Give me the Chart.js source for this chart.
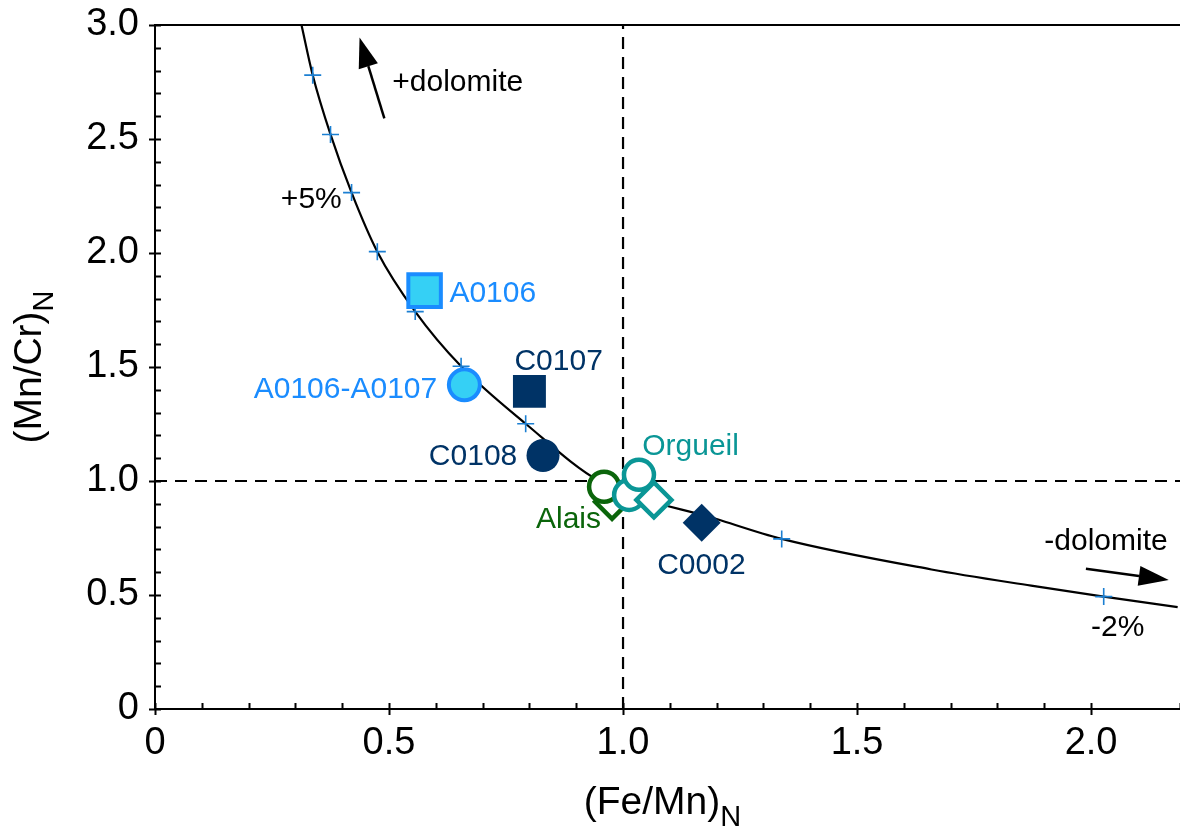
<!DOCTYPE html>
<html>
<head>
<meta charset="utf-8">
<script src="https://cdn.jsdelivr.net/npm/chart.js@4.4.1/dist/chart.umd.min.js"></script>
<style>
  html, body { margin: 0; padding: 0; background: #fff; }
  #wrap { width: 1180px; height: 832px; position: relative; }
</style>
</head>
<body>
<div id="wrap"><canvas id="chart"></canvas></div>
<script>
// mixing curve
const curveX = [0.313, 0.337, 0.375, 0.42, 0.475, 0.556, 0.654, 0.792, 0.949, 1.205, 1.339, 1.659, 1.872, 2.027, 2.185];
const curveY = [3.0, 2.78, 2.52, 2.265, 2.006, 1.743, 1.503, 1.251, 1.0, 0.83, 0.746, 0.612, 0.541, 0.493, 0.447];

// blue + marks along the curve
const stepX = [0.337, 0.375, 0.42, 0.475, 0.556, 0.654, 0.792, 1.339, 2.027];
const stepY = [2.78, 2.52, 2.265, 2.006, 1.743, 1.503, 1.251, 0.746, 0.493];

// samples (bottom to top in drawing order)
const sampleNames = ["A0106", "A0106-A0107", "C0107", "C0108", "Alais", "Alais", "Orgueil", "Orgueil", "Orgueil", "C0002"];
const sampleX = [0.576, 0.661, 0.80, 0.829, 0.9765, 0.9595, 1.013, 1.034, 1.066, 1.168];
const sampleY = [1.835, 1.422, 1.393, 1.112, 0.909, 0.9745, 0.939, 1.027, 0.917, 0.8165];

// reference lines
const refX = [1.0];
const refY = [1.0];

// axis ticks
const xTickValues = [0, 0.5, 1.0, 1.5, 2.0];
const xTickLabels = ["0", "0.5", "1.0", "1.5", "2.0"];
const yTickValues = [0, 0.5, 1.0, 1.5, 2.0, 2.5, 3.0];
const yTickLabels = ["0", "0.5", "1.0", "1.5", "2.0", "2.5", "3.0"];

const FONT = "'Liberation Sans', Arial, Helvetica, sans-serif";
const NAVY = "#003366";
const TEAL = "#0A9696";
const GREEN = "#0B650B";
const BLUE = "#1A8CFF";
const CYAN = "#35D0F5";

// marker look per sample
const sampleStyle = [
  { shape: "rect", r: 23, fill: CYAN, line: BLUE, w: 4 },
  { shape: "circle", r: 15.5, fill: CYAN, line: BLUE, w: 4 },
  { shape: "rect", r: 23.3, fill: NAVY, line: NAVY, w: 0 },
  { shape: "circle", r: 16.5, fill: NAVY, line: NAVY, w: 0 },
  { shape: "rectRot", r: 17, fill: "#fff", line: GREEN, w: 4.5 },
  { shape: "circle", r: 15, fill: "#fff", line: GREEN, w: 4.5 },
  { shape: "circle", r: 15, fill: "#fff", line: TEAL, w: 4.5 },
  { shape: "circle", r: 15, fill: "#fff", line: TEAL, w: 4.5 },
  { shape: "rectRot", r: 17.5, fill: "#fff", line: TEAL, w: 4.5 },
  { shape: "rectRot", r: 19, fill: NAVY, line: NAVY, w: 0 }
];

// text notes, in data units (centre of the text line)
const notes = [
  { text: "+dolomite", x: 0.507, y: 2.757, color: "#000", align: "left" },
  { text: "+5%", x: 0.399, y: 2.243, color: "#000", align: "right" },
  { text: "-dolomite", x: 1.900, y: 0.746, color: "#000", align: "left" },
  { text: "-2%", x: 2.0, y: 0.369, color: "#000", align: "left" },
  { text: "A0106", x: 0.629, y: 1.831, color: BLUE, align: "left" },
  { text: "A0106-A0107", x: 0.603, y: 1.409, color: BLUE, align: "right" },
  { text: "C0107", x: 0.768, y: 1.534, color: NAVY, align: "left" },
  { text: "C0108", x: 0.774, y: 1.119, color: NAVY, align: "right" },
  { text: "Orgueil", x: 1.041, y: 1.159, color: TEAL, align: "left" },
  { text: "Alais", x: 0.953, y: 0.843, color: GREEN, align: "right" },
  { text: "C0002", x: 1.073, y: 0.639, color: NAVY, align: "left" }
];

// dolomite arrows: tail -> tip
const arrows = [
  { x0: 0.490, y0: 2.59, x1: 0.437, y1: 2.945 },
  { x0: 1.989, y0: 0.615, x1: 2.166, y1: 0.566 }
];

function pick(values, labels) {
  return v => {
    const i = values.findIndex(t => Math.abs(t - v) < 1e-6);
    return i >= 0 ? labels[i] : "";
  };
}
function isMajor(v) {
  return Math.abs(v * 2 - Math.round(v * 2)) < 1e-6;
}
function noPad(s) {
  s.paddingLeft = 0; s.paddingRight = 0; s.paddingTop = 0; s.paddingBottom = 0;
}

const datasets = [];
datasets.push({
  data: [{ x: refX[0], y: 0 }, { x: refX[0], y: 3 }],
  borderColor: "#000", borderWidth: 2.2, borderDash: [12, 8],
  showLine: true, pointRadius: 0
});
datasets.push({
  data: [{ x: 0, y: refY[0] }, { x: 2.2, y: refY[0] }],
  borderColor: "#000", borderWidth: 2.2, borderDash: [12, 8],
  showLine: true, pointRadius: 0
});
datasets.push({
  data: curveX.map((x, i) => ({ x, y: curveY[i] })),
  borderColor: "#000", borderWidth: 2.2,
  showLine: true, pointRadius: 0, cubicInterpolationMode: "monotone"
});
datasets.push({
  data: stepX.map((x, i) => ({ x, y: stepY[i] })),
  pointStyle: "cross", pointRadius: 8.5, borderColor: "#1B7FD2", borderWidth: 1.6
});
sampleX.forEach((x, i) => {
  const s = sampleStyle[i];
  datasets.push({
    label: sampleNames[i],
    data: [{ x, y: sampleY[i] }],
    pointStyle: s.shape, pointRadius: s.r,
    backgroundColor: s.fill, borderColor: s.line, borderWidth: s.w
  });
});
// first in list = bottom
datasets.forEach((d, i) => { d.order = datasets.length - i; });

const decor = {
  id: "decor",
  afterDraw(chart) {
    const { ctx, chartArea: a, scales: { x, y } } = chart;
    ctx.save();
    ctx.strokeStyle = "#000";
    ctx.lineWidth = 2;
    ctx.beginPath();
    ctx.moveTo(a.left - 1, a.top);
    ctx.lineTo(chart.width, a.top);
    // tick marks: majors cross the axis, minors point inward
    y.ticks.forEach(t => {
      const py = Math.round(y.getPixelForValue(t.value)) + 0.5;
      ctx.moveTo(a.left - (isMajor(t.value) ? 6 : 0), py);
      ctx.lineTo(a.left + 6, py);
    });
    x.ticks.forEach(t => {
      const px = Math.round(x.getPixelForValue(t.value)) + 0.5;
      ctx.moveTo(px, a.bottom + (isMajor(t.value) ? 6 : 0));
      ctx.lineTo(px, a.bottom - 6);
    });
    ctx.stroke();

    // arrows
    ctx.fillStyle = "#000";
    arrows.forEach(ar => {
      const x0 = x.getPixelForValue(ar.x0), y0 = y.getPixelForValue(ar.y0);
      const x1 = x.getPixelForValue(ar.x1), y1 = y.getPixelForValue(ar.y1);
      const ang = Math.atan2(y1 - y0, x1 - x0);
      const len = 30, half = 10;
      const bx = x1 - len * Math.cos(ang), by = y1 - len * Math.sin(ang);
      ctx.beginPath();
      ctx.lineWidth = 2.5;
      ctx.moveTo(x0, y0);
      ctx.lineTo(bx, by);
      ctx.stroke();
      ctx.beginPath();
      ctx.moveTo(x1, y1);
      ctx.lineTo(bx + half * Math.sin(ang), by - half * Math.cos(ang));
      ctx.lineTo(bx - half * Math.sin(ang), by + half * Math.cos(ang));
      ctx.closePath();
      ctx.fill();
    });

    // notes
    const fs = 30;
    ctx.font = fs + "px " + FONT;
    ctx.textBaseline = "alphabetic";
    notes.forEach(n => {
      ctx.fillStyle = n.color;
      ctx.textAlign = n.align;
      ctx.fillText(n.text, x.getPixelForValue(n.x), y.getPixelForValue(n.y) + fs * 0.358);
    });

    // axis titles with subscript N
    const tf = 39, sf = 29;
    ctx.fillStyle = "#000";
    ctx.textAlign = "left";
    ctx.font = tf + "px " + FONT;
    const xt = "(Fe/Mn)", yt = "(Mn/Cr)";
    const xw = ctx.measureText(xt).width;
    ctx.font = sf + "px " + FONT;
    const nw = ctx.measureText("N").width;
    const sx = (a.left + a.right) / 2 - 5 - (xw + nw) / 2;
    ctx.font = tf + "px " + FONT;
    ctx.fillText(xt, sx, 814);
    ctx.font = sf + "px " + FONT;
    ctx.fillText("N", sx + xw, 826);

    ctx.translate(41, (a.top + a.bottom) / 2);
    ctx.rotate(-Math.PI / 2);
    ctx.font = tf + "px " + FONT;
    const yw = ctx.measureText(yt).width;
    ctx.fillText(yt, -(yw + nw) / 2, 0);
    ctx.font = sf + "px " + FONT;
    ctx.fillText("N", -(yw + nw) / 2 + yw, 12);
    ctx.restore();
  }
};

new Chart(document.getElementById("chart"), {
  type: "scatter",
  data: { datasets },
  options: {
    responsive: true,
    maintainAspectRatio: false,
    animation: false,
    events: [],
    layout: { autoPadding: false, padding: { top: 25, right: 0, left: 0, bottom: 0 } },
    plugins: { legend: { display: false }, tooltip: { enabled: false } },
    scales: {
      x: {
        type: "linear", min: 0, max: 2.19,
        afterFit: s => { s.height = 123; noPad(s); },
        grid: { display: true, drawOnChartArea: false, drawTicks: false },
        border: { display: true, color: "#000", width: 2 },
        ticks: {
          stepSize: 0.1, autoSkip: false, maxRotation: 0, padding: 12,
          color: "#000", font: { family: FONT, size: 38 },
          callback: pick(xTickValues, xTickLabels)
        }
      },
      y: {
        type: "linear", min: 0, max: 3,
        afterFit: s => { s.width = 155; noPad(s); },
        grid: { display: true, drawOnChartArea: false, drawTicks: false },
        border: { display: true, color: "#000", width: 2 },
        ticks: {
          stepSize: 0.1, autoSkip: false, padding: 16,
          color: "#000", font: { family: FONT, size: 38 },
          callback: pick(yTickValues, yTickLabels)
        }
      }
    }
  },
  plugins: [decor]
});
</script>
</body>
</html>
